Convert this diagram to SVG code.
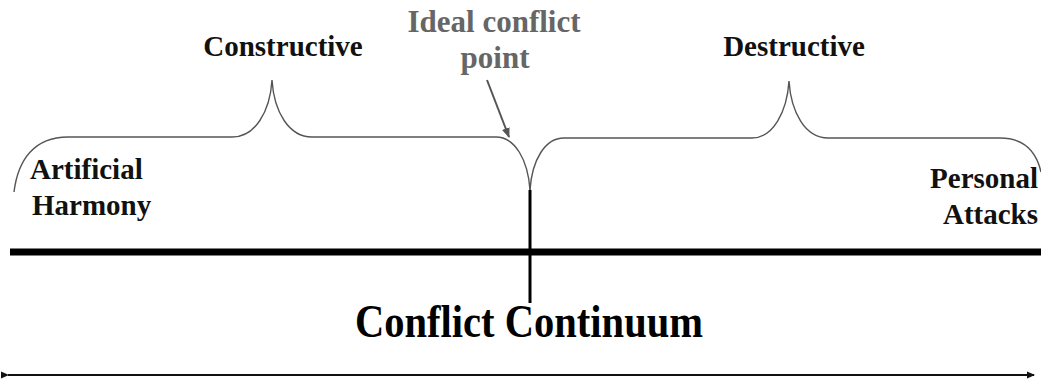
<svg xmlns="http://www.w3.org/2000/svg" width="1041" height="383" viewBox="0 0 1041 383">
<style>
.lbl{font-family:"Liberation Serif","Times New Roman",serif;font-weight:bold;font-size:29px;fill:#111}
.gray{fill:#666;font-size:31px}
.brace{fill:none;stroke:#555;stroke-width:1.4}
</style>
<defs>
<marker id="ah" markerWidth="8" markerHeight="8" refX="7" refY="4" orient="auto" markerUnits="userSpaceOnUse">
<path d="M0,0.5 L8,4 L0,7.5 Z" fill="#111"/>
</marker>
<marker id="ahg" markerWidth="10" markerHeight="10" refX="9" refY="5" orient="auto" markerUnits="userSpaceOnUse">
<path d="M0,1 L10,5 L0,9 Z" fill="#555"/>
</marker>
</defs>
<rect width="1041" height="383" fill="#fff"/>
<g id="connectors">
<path class="brace" d="M14,192 C18,160 34,137 68,137 L232,137 C255,137 270,112 272,80 C274,112 289,137 312,137 L496,137 C515,137 528,160 530,190"/>
<path class="brace" d="M530,190 C532,160 545,138 564,138 L752,138 C773,138 787,112 789,81 C791,112 805,138 828,138 L1000,138 C1022,138 1036,150 1041,172"/>
<line x1="487" y1="80" x2="509" y2="137" stroke="#555" stroke-width="2" marker-end="url(#ahg)"/>
<line x1="530" y1="190" x2="530" y2="303" stroke="#000" stroke-width="3"/>
<line x1="10" y1="252" x2="1041" y2="252" stroke="#000" stroke-width="7"/>
<line x1="8" y1="375" x2="1034" y2="375" stroke="#111" stroke-width="2" marker-start="url(#ah)" marker-end="url(#ah)"/>
</g>
<g id="constructive"><text class="lbl" x="283" y="56" text-anchor="middle">Constructive</text></g>
<g id="destructive"><text class="lbl" x="794" y="56" text-anchor="middle">Destructive</text></g>
<g id="ideal"><text class="lbl gray" x="494" y="32" text-anchor="middle">Ideal conflict</text><text class="lbl gray" x="495" y="68" text-anchor="middle">point</text></g>
<g id="artificial"><text class="lbl" x="30" y="179">Artificial</text><text class="lbl" x="32" y="215">Harmony</text></g>
<g id="personal"><text class="lbl" x="1038" y="188" text-anchor="end">Personal</text><text class="lbl" x="1038" y="224" text-anchor="end">Attacks</text></g>
<g id="title"><text x="355" y="337" textLength="348" lengthAdjust="spacingAndGlyphs" style="font-family:'Liberation Serif','Times New Roman',serif;font-weight:bold;font-size:47px;fill:#000">Conflict Continuum</text></g>
</svg>
